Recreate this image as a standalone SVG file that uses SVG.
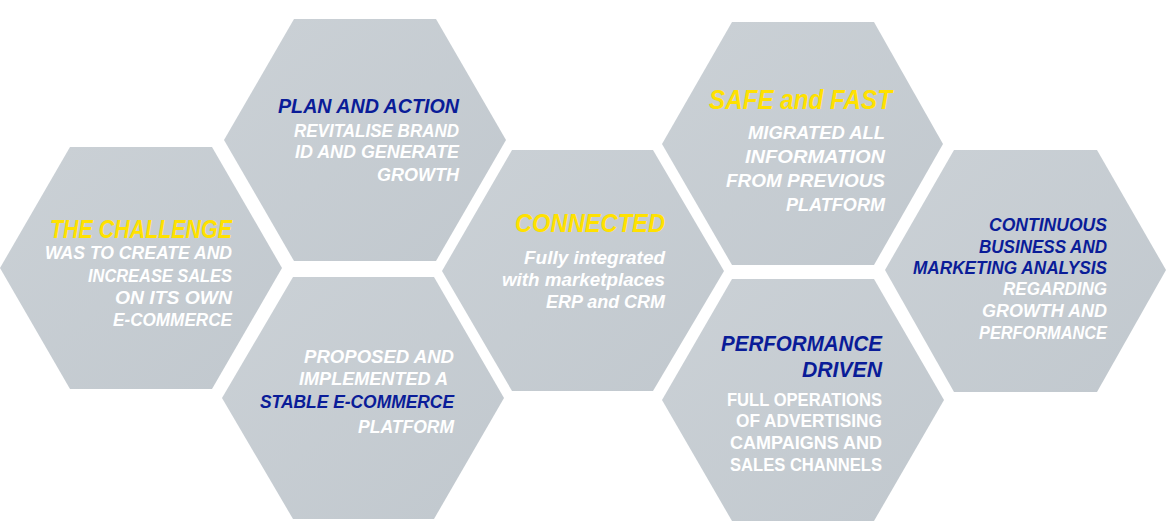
<svg xmlns="http://www.w3.org/2000/svg" width="1171" height="530" viewBox="0 0 1171 530">
  <defs>
    <linearGradient id="hexfill" x1="0" y1="0" x2="1" y2="1">
      <stop offset="0" stop-color="#CBD1D6"/>
      <stop offset="1" stop-color="#C1C8CE"/>
    </linearGradient>
  </defs>
  <style>
    .hex { fill: url(#hexfill); }
    text { font-family: "Liberation Sans", Arial, sans-serif; font-weight: bold; font-style: italic; text-anchor: end; }
    .y { fill: #FFE100; }
    .b { fill: #0A1C98; }
    .w { fill: #FFFFFF; }
    .up { font-style: normal; }
  </style>
  <rect width="1171" height="530" fill="#FFFFFF"/>

  <g id="node-challenge">
    <polygon class="hex" points="0,268 70,147 212,147 282,268 212,389 70,389"/>
    <text class="y" x="232" y="238" font-size="26" textLength="182" lengthAdjust="spacingAndGlyphs">THE CHALLENGE</text>
    <text class="w" x="232" y="259" font-size="19" textLength="187" lengthAdjust="spacingAndGlyphs">WAS TO CREATE AND</text>
    <text class="w" x="232" y="282" font-size="19" textLength="144" lengthAdjust="spacingAndGlyphs">INCREASE SALES</text>
    <text class="w" x="232" y="304" font-size="19" textLength="117" lengthAdjust="spacingAndGlyphs">ON ITS OWN</text>
    <text class="w" x="232" y="326" font-size="19" textLength="119" lengthAdjust="spacingAndGlyphs">E-COMMERCE</text>
  </g>

  <g id="node-plan">
    <polygon class="hex" points="224,140 294,19 436,19 506,140 436,261 294,261"/>
    <text class="b" x="459" y="113" font-size="21" textLength="181" lengthAdjust="spacingAndGlyphs">PLAN AND ACTION</text>
    <text class="w" x="459" y="137" font-size="18.5" textLength="165" lengthAdjust="spacingAndGlyphs">REVITALISE BRAND</text>
    <text class="w" x="459" y="158" font-size="18.5" textLength="164" lengthAdjust="spacingAndGlyphs">ID AND GENERATE</text>
    <text class="w" x="459" y="181" font-size="18.5" textLength="82" lengthAdjust="spacingAndGlyphs">GROWTH</text>
  </g>

  <g id="node-proposed">
    <polygon class="hex" points="222,398 293,277 434,277 504,398 434,519 293,519"/>
    <text class="w" x="454" y="363" font-size="19" textLength="150" lengthAdjust="spacingAndGlyphs">PROPOSED AND</text>
    <text class="w" x="448" y="385" font-size="19" textLength="149" lengthAdjust="spacingAndGlyphs">IMPLEMENTED A</text>
    <text class="b" x="454" y="408" font-size="19" textLength="194" lengthAdjust="spacingAndGlyphs">STABLE E-COMMERCE</text>
    <text class="w" x="454" y="433" font-size="19" textLength="96" lengthAdjust="spacingAndGlyphs">PLATFORM</text>
  </g>

  <g id="node-connected">
    <polygon class="hex" points="442,271 512,150 653,150 724,271 653,391 512,391"/>
    <text class="y" x="665" y="232" font-size="26" textLength="150" lengthAdjust="spacingAndGlyphs">CONNECTED</text>
    <text class="w" x="665" y="264" font-size="19" textLength="141" lengthAdjust="spacingAndGlyphs">Fully integrated</text>
    <text class="w" x="665" y="286" font-size="19" textLength="163" lengthAdjust="spacingAndGlyphs">with marketplaces</text>
    <text class="w" x="665" y="308" font-size="19" textLength="119" lengthAdjust="spacingAndGlyphs">ERP and CRM</text>
  </g>

  <g id="node-safe">
    <polygon class="hex" points="662,144 732,22 874,22 943,144 874,265 732,265"/>
    <text class="y" x="892" y="109" font-size="27" textLength="183" lengthAdjust="spacingAndGlyphs">SAFE and FAST</text>
    <text class="w" x="885" y="139" font-size="19" textLength="137" lengthAdjust="spacingAndGlyphs">MIGRATED ALL</text>
    <text class="w" x="885" y="163" font-size="19" textLength="140" lengthAdjust="spacingAndGlyphs">INFORMATION</text>
    <text class="w" x="885" y="187" font-size="19" textLength="159" lengthAdjust="spacingAndGlyphs">FROM PREVIOUS</text>
    <text class="w" x="885" y="211" font-size="19" textLength="99" lengthAdjust="spacingAndGlyphs">PLATFORM</text>
  </g>

  <g id="node-performance">
    <polygon class="hex" points="662,400 732,279 874,279 944,400 874,521 732,521"/>
    <text class="b" x="882" y="351" font-size="22" textLength="161" lengthAdjust="spacingAndGlyphs">PERFORMANCE</text>
    <text class="b" x="882" y="377" font-size="22" textLength="80" lengthAdjust="spacingAndGlyphs">DRIVEN</text>
    <text class="w up" x="882" y="406" font-size="18.5" textLength="155" lengthAdjust="spacingAndGlyphs">FULL OPERATIONS</text>
    <text class="w up" x="882" y="427" font-size="18.5" textLength="146" lengthAdjust="spacingAndGlyphs">OF ADVERTISING</text>
    <text class="w up" x="882" y="449" font-size="18.5" textLength="152" lengthAdjust="spacingAndGlyphs">CAMPAIGNS AND</text>
    <text class="w up" x="882" y="471" font-size="18.5" textLength="152" lengthAdjust="spacingAndGlyphs">SALES CHANNELS</text>
  </g>

  <g id="node-continuous">
    <polygon class="hex" points="885,270 954,150 1097,150 1166,270 1097,392 954,392"/>
    <text class="b" x="1107" y="231" font-size="17.5" textLength="118" lengthAdjust="spacingAndGlyphs">CONTINUOUS</text>
    <text class="b" x="1107" y="253" font-size="17.5" textLength="128" lengthAdjust="spacingAndGlyphs">BUSINESS AND</text>
    <text class="b" x="1107" y="274" font-size="17.5" textLength="194" lengthAdjust="spacingAndGlyphs">MARKETING ANALYSIS</text>
    <text class="w" x="1107" y="295" font-size="17.5" textLength="104" lengthAdjust="spacingAndGlyphs">REGARDING</text>
    <text class="w" x="1107" y="317" font-size="17.5" textLength="125" lengthAdjust="spacingAndGlyphs">GROWTH AND</text>
    <text class="w" x="1107" y="339" font-size="17.5" textLength="128" lengthAdjust="spacingAndGlyphs">PERFORMANCE</text>
  </g>

  <g id="connectors"/>
</svg>
